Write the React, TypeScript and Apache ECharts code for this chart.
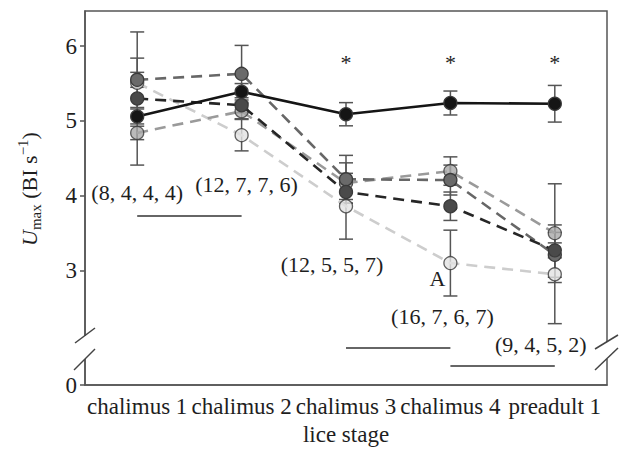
import React, { useEffect, useRef } from "react";
import * as echarts from "echarts";

const categories = ["chalimus 1", "chalimus 2", "chalimus 3", "chalimus 4", "preadult 1"];

const solidMeans = [5.06, 5.39, 5.09, 5.24, 5.23];
const solidErr = [0.1, 0.11, 0.155, 0.16, 0.245];
const darkGrayMeans = [5.55, 5.63, 4.22, 4.21, 3.21];
const darkGrayErr = [0.1, 0.38, 0.32, 0.2, 0.3];
const blackDashMeans = [5.3, 5.21, 4.05, 3.86, 3.27];
const blackDashErr = [0.89, 0.1, 0.1, 0.19, 0.1];
const midGrayMeans = [4.84, 5.13, 4.17, 4.33, 3.5];
const midGrayErr = [0.09, 0.1, 0.27, 0.19, 0.66];
const lightMeans = [5.51, 4.81, 3.86, 3.1, 2.95];
const lightErr = [0.33, 0.21, 0.44, 0.44, 0.66];

const yTickValues = [1.47, 3, 4, 5, 6];
const yTickLabels = ["0", "3", "4", "5", "6"];

const annotTexts = ["(8, 4, 4, 4)", "(12, 7, 7, 6)", "(12, 5, 5, 7)", "A", "(16, 7, 6, 7)", "(9, 4, 5, 2)", "*", "*", "*"];
const annotCats = [0, 1, 2, 3, 3, 4, 2, 3, 4];
const annotY = [4.04, 4.15, 3.08, 2.89, 2.39, 2.01, 5.78, 5.78, 5.78];
const annotDx = [0, 5, -14, -13, -8, -14, 0, 0, 0];

const barFrom = [0, 2, 3];
const barTo = [1, 3, 4];
const barY = [3.73, 1.97, 1.73];

const FONT = "Liberation Serif";
const INK = "#1e1e1e";

export default function App() {
  const ref = useRef<HTMLDivElement>(null);
  useEffect(() => {
    document.body.style.margin = "0";
    const chart = echarts.init(ref.current!, null, { renderer: "svg" });

    const groups = [
      { name: "light", means: lightMeans, err: lightErr, line: "#cdcdcd", fill: "#e2e2e2", dash: true, opacity: 0.8 },
      { name: "mid", means: midGrayMeans, err: midGrayErr, line: "#9a9a9a", fill: "#a9a9a9", dash: true, opacity: 0.8 },
      { name: "darkgray", means: darkGrayMeans, err: darkGrayErr, line: "#676767", fill: "#6a6a6a", dash: true, opacity: 1 },
      { name: "blackdash", means: blackDashMeans, err: blackDashErr, line: "#262626", fill: "#4a4a4a", dash: true, opacity: 1 },
      { name: "solid", means: solidMeans, err: solidErr, line: "#151515", fill: "#151515", dash: false, opacity: 1 },
    ];

    const errData: number[][] = [];
    groups.forEach((g) => {
      g.means.forEach((m, i) => errData.push([i, m - g.err[i], m + g.err[i]]));
    });

    const lineSeries = groups.map((g, gi) => ({
      type: "line",
      name: g.name,
      data: g.means,
      z: 3 + gi,
      symbol: "circle",
      symbolSize: 13,
      lineStyle: { color: g.line, width: 2.6, type: g.dash ? [11, 7] : "solid" },
      itemStyle: { color: g.fill, borderColor: "#3a3a3a", borderWidth: 1.3, opacity: g.opacity },
    }));

    const errSeries = {
      type: "custom",
      z: 2,
      data: errData,
      encode: { x: 0, y: [1, 2] },
      renderItem: (params: any, api: any) => {
        const x = api.value(0);
        const lo = api.value(1);
        const hi = api.value(2);
        const pt = api.coord([x, hi]);
        const pb = api.coord([x, lo]);
        const w = 7;
        const st = { stroke: "#555", lineWidth: 1.5 };
        return {
          type: "group",
          children: [
            { type: "line", shape: { x1: pt[0], y1: pt[1], x2: pb[0], y2: pb[1] }, style: st },
            { type: "line", shape: { x1: pt[0] - w, y1: pt[1], x2: pt[0] + w, y2: pt[1] }, style: st },
            { type: "line", shape: { x1: pb[0] - w, y1: pb[1], x2: pb[0] + w, y2: pb[1] }, style: st },
          ],
        };
      },
    };

    const axisStyle = { fontFamily: FONT, fontSize: 23, color: INK };

    const annotSeries = {
      type: "custom",
      z: 10,
      silent: true,
      data: annotCats.map((c, i) => [c, annotY[i]]),
      encode: { x: 0, y: 1 },
      renderItem: (params: any, api: any) => {
        const i = params.dataIndex;
        const p = api.coord([api.value(0), api.value(1)]);
        return {
          type: "text",
          x: p[0] + annotDx[i],
          y: p[1],
          style: {
            text: annotTexts[i],
            fill: INK,
            font: `22px "${FONT}"`,
            align: "center",
            verticalAlign: "middle",
          },
        };
      },
    };

    const barSeries = {
      type: "line",
      data: [],
      silent: true,
      markLine: {
        silent: true,
        symbol: "none",
        label: { show: false },
        lineStyle: { color: "#333", width: 1.5, type: "solid" },
        data: barY.map((y, i) => [{ coord: [barFrom[i], y] }, { coord: [barTo[i], y] }]),
      },
    };

    const white = { fill: "#fff" };
    const slash = { stroke: "#444", lineWidth: 1.5 };

    const option: any = {
      animation: false,
      grid: {
        left: 85,
        right: 20,
        top: 11,
        bottom: 72,
        show: true,
        borderColor: "#555",
        borderWidth: 1.5,
        outerBoundsMode: "none",
      },
      xAxis: {
        type: "category",
        data: categories,
        boundaryGap: true,
        axisLine: { lineStyle: { color: "#555", width: 1.5 } },
        axisTick: { alignWithLabel: true, length: 6, lineStyle: { color: "#555", width: 1.5 } },
        axisLabel: { interval: 0, margin: 10, ...axisStyle },
        name: "lice stage",
        nameLocation: "middle",
        nameGap: 38,
        nameTextStyle: axisStyle,
      },
      yAxis: {
        type: "value",
        min: 1.47,
        max: 6.47,
        splitLine: { show: false },
        axisLine: { show: true, lineStyle: { color: "#555", width: 1.5 } },
        axisTick: { show: true, length: 5, customValues: yTickValues, lineStyle: { color: "#555", width: 1.5 } },
        axisLabel: {
          customValues: yTickValues,
          margin: 8,
          formatter: (v: number) => {
            const idx = yTickValues.findIndex((t) => Math.abs(t - v) < 1e-6);
            return idx >= 0 ? yTickLabels[idx] : "";
          },
          ...axisStyle,
        },
        name: "{i|U}{sub|max}{n| (BI s}{sup|−1}{n|)}",
        nameLocation: "middle",
        nameGap: 42,
        nameRotate: 90,
        nameTextStyle: {
          padding: [0, 0, 0, 18],
          rich: {
            i: { fontFamily: FONT, fontSize: 22, fontStyle: "italic", color: INK, lineHeight: 28 },
            n: { fontFamily: FONT, fontSize: 22, color: INK, lineHeight: 28 },
            sub: { fontFamily: FONT, fontSize: 15, color: INK, lineHeight: 14, verticalAlign: "bottom" },
            sup: { fontFamily: FONT, fontSize: 15, color: INK, lineHeight: 14, verticalAlign: "top" },
          },
        },
      },
      graphic: [
        { type: "rect", z: 100, shape: { x: 80, y: 336, width: 10, height: 23 }, style: white },
        { type: "line", z: 101, shape: { x1: 75, y1: 343, x2: 95, y2: 328 }, style: slash },
        { type: "line", z: 101, shape: { x1: 74, y1: 370, x2: 95, y2: 349 }, style: slash },
        { type: "rect", z: 100, shape: { x: 602, y: 342, width: 10, height: 17 }, style: white },
        { type: "line", z: 101, shape: { x1: 595, y1: 349, x2: 618, y2: 335 }, style: slash },
        { type: "line", z: 101, shape: { x1: 595, y1: 370, x2: 618, y2: 348 }, style: slash },
      ],
      series: [errSeries, ...lineSeries, annotSeries, barSeries],
    };

    chart.setOption(option);
    return () => chart.dispose();
  }, []);

  return <div ref={ref} style={{ width: 627, height: 457 }} />;
}
